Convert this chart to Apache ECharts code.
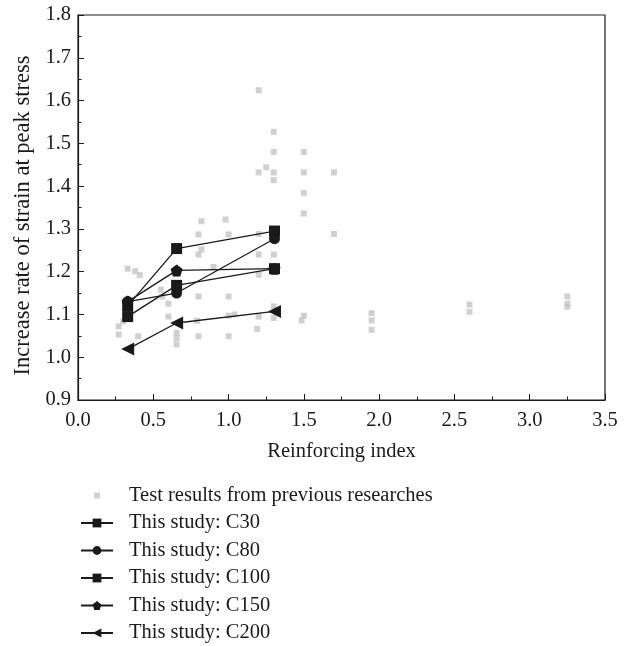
<!DOCTYPE html>
<html><head><meta charset="utf-8">
<script src="https://cdn.jsdelivr.net/npm/echarts@6/dist/echarts.min.js"></script>
<style>html,body{margin:0;padding:0;background:#fff}#c{width:632px;height:646px}</style>
</head><body><div id="c"></div>
<script>
// Test results from previous researches: [reinforcing index, increase rate]
const previousResults = [
 [0.27,1.072],[0.30,1.084],[0.27,1.053],[0.33,1.207],[0.38,1.201],[0.41,1.192],[0.40,1.049],
 [0.55,1.158],[0.56,1.142],[0.60,1.125],[0.60,1.095],
 [0.655,1.057],[0.655,1.045],[0.655,1.03],
 [0.79,1.085],[0.80,1.049],[0.80,1.142],[0.80,1.24],[0.80,1.287],[0.82,1.252],[0.82,1.318],
 [0.90,1.211],[0.98,1.322],[1.0,1.287],[1.0,1.142],[1.0,1.097],[1.0,1.049],[1.04,1.10],
 [1.19,1.066],[1.2,1.095],[1.2,1.193],[1.2,1.24],[1.2,1.288],[1.2,1.432],[1.2,1.624],[1.25,1.444],
 [1.3,1.527],[1.3,1.48],[1.3,1.432],[1.3,1.414],[1.3,1.24],[1.3,1.092],[1.3,1.119],
 [1.5,1.48],[1.5,1.432],[1.5,1.384],[1.5,1.336],[1.5,1.097],[1.485,1.086],
 [1.7,1.432],[1.7,1.288],
 [1.95,1.103],[1.95,1.086],[1.95,1.064],
 [2.6,1.123],[2.6,1.106],
 [3.25,1.142],[3.25,1.125],[3.25,1.118]
];
const studyIndex = [0.33, 0.655, 1.305];
const c30  = [1.120, 1.254, 1.295];
const c80  = [1.130, 1.150, 1.277];
const c100 = [1.095, 1.168, 1.207];
const c150 = [1.130, 1.203, 1.207];
const c200 = [1.019, 1.080, 1.107];
const xTicks = {min: 0, max: 3.5, step: 0.5};
const yTicks = {min: 0.9, max: 1.8, step: 0.1};

const FONT = 'Liberation Serif';
const INK = '#1a1a1a';
const pair = v => studyIndex.map((x,i)=>[x, v[i]]);
const pentagon = 'path://M0,-1 L0.951,-0.309 L0.588,0.809 L-0.588,0.809 L-0.951,-0.309 Z';
const triLeft = 'path://M0,5 L10,0 L10,10 Z';
// small square legend icon kept unstretched by faint corner specks
const smallSquareIcon = 'path://M0,0h0.05v0.05h-0.05z M32,11h-0.05v-0.05h0.05z M13,2.5h6v6h-6z';

function study(name, data, symbol, size) {
  return {
    name, type: 'line', data: pair(data), symbol, symbolSize: size,
    itemStyle: {color: INK}, lineStyle: {color: INK, width: 1.3},
    z: 5, animation: false
  };
}

const chart = echarts.init(document.getElementById('c'), null, {renderer: 'canvas'});
chart.setOption({
  animation: false,
  textStyle: {fontFamily: FONT, color: INK},
  grid: {left: 78, right: 27, top: 15, bottom: 246, show: true, borderColor: INK, borderWidth: 1.2, backgroundColor: 'transparent'},
  xAxis: {
    type: 'value', min: xTicks.min, max: xTicks.max, interval: xTicks.step,
    name: 'Reinforcing index', nameLocation: 'middle', nameGap: 41,
    nameTextStyle: {fontFamily: FONT, fontSize: 20.5, color: INK},
    axisLine: {onZero: false, lineStyle: {color: INK, width: 1.2}},
    axisTick: {inside: true, length: 6, lineStyle: {color: INK}},
    minorTick: {show: true, splitNumber: 2, length: 3.5, lineStyle: {color: INK}},
    splitLine: {show: false},
    axisLabel: {fontFamily: FONT, fontSize: 20.5, color: INK, margin: 10, formatter: v => v.toFixed(1)}
  },
  yAxis: {
    type: 'value', min: yTicks.min, max: yTicks.max, interval: yTicks.step,
    name: 'Increase rate of strain at peak stress', nameLocation: 'middle', nameGap: 43,
    nameTextStyle: {fontFamily: FONT, fontSize: 22.5, color: INK, padding: [0, 16, 0, 0]},
    axisLine: {onZero: false, lineStyle: {color: INK, width: 1.2}},
    axisTick: {inside: true, length: 6, lineStyle: {color: INK}},
    minorTick: {show: true, splitNumber: 2, length: 3.5, lineStyle: {color: INK}},
    splitLine: {show: false},
    axisLabel: {fontFamily: FONT, fontSize: 20.5, color: INK, margin: 7, formatter: v => v.toFixed(1)}
  },
  legend: {
    orient: 'vertical', left: 75, top: 485, padding: [0, 5], height: 160,
    itemGap: 6.5, itemWidth: 32, itemHeight: 11,
    textStyle: {fontFamily: FONT, fontSize: 20.5, color: INK, padding: [0, 0, 0, 11]},
    data: [
      {name: 'Test results from previous researches', icon: smallSquareIcon, itemStyle: {color: '#c4c4c4'}},
      'This study: C30','This study: C80','This study: C100','This study: C150','This study: C200'
    ]
  },
  series: [
    {name: 'Test results from previous researches', type: 'scatter', data: previousResults,
     symbol: 'rect', symbolSize: 6, itemStyle: {color: '#c4c4c4'}, z: 2},
    study('This study: C30', c30, 'rect', 11),
    study('This study: C80', c80, 'circle', 11),
    study('This study: C100', c100, 'rect', 11),
    study('This study: C150', c150, pentagon, 12),
    study('This study: C200', c200, triLeft, [13,13])
  ]
});
</script></body></html>
